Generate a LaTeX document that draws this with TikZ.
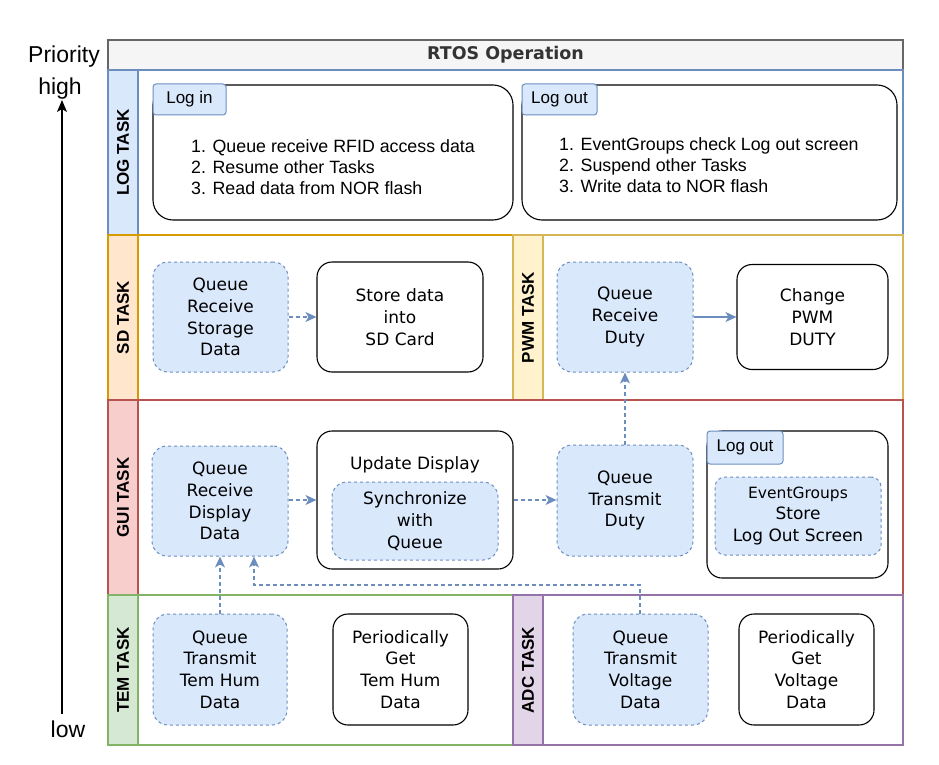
\documentclass[tikz,border=0pt]{standalone}
\usepackage{fontspec}
\setmainfont{Liberation Sans}
\newfontfamily\dvfont{DejaVu Sans}
\usetikzlibrary{arrows.meta}

\definecolor{bluefill}{HTML}{DAE8FC}
\definecolor{bluestroke}{HTML}{6C8EBF}
\definecolor{orangefill}{HTML}{FFE6CC}
\definecolor{orangestroke}{HTML}{D79B00}
\definecolor{yellowfill}{HTML}{FFF2CC}
\definecolor{yellowstroke}{HTML}{D6B656}
\definecolor{redfill}{HTML}{F8CECC}
\definecolor{redstroke}{HTML}{B85450}
\definecolor{greenfill}{HTML}{D5E8D4}
\definecolor{greenstroke}{HTML}{82B366}
\definecolor{purplefill}{HTML}{E1D5E7}
\definecolor{purplestroke}{HTML}{9673A6}
\definecolor{titlefill}{HTML}{F5F5F5}
\definecolor{titlestroke}{HTML}{666666}
\definecolor{titletext}{HTML}{333333}

\tikzset{
  boxtext/.style={align=center, font=\dvfont\fontsize{17}{21.7}\selectfont, inner sep=0pt},
  queuebox/.style={boxtext, draw=bluestroke, fill=bluefill, dash pattern=on 3pt off 3pt,
    line width=1pt, rounded corners=15pt},
  workbox/.style={boxtext, draw=black, line width=1.1pt, rounded corners=15pt},
  logbox/.style={draw=black, line width=1.1pt, rounded corners=20pt, inner sep=0pt},
  tabbox/.style={draw=bluestroke, fill=bluefill, line width=1pt, rounded corners=3pt,
    font=\fontsize{17}{20}\selectfont, inner sep=0pt},
  listtext/.style={align=left, anchor=west, font=\fontsize{17.8}{21}\selectfont, inner sep=0pt},
  lanelabel/.style={rotate=90, font=\bfseries\fontsize{17}{20}\selectfont, inner sep=0pt},
  lane/.style={line width=1.2pt},
  flow/.style={draw=bluestroke, line width=1.2pt, -{Stealth[length=11pt,width=10pt,inset=3pt]}},
  dflow/.style={flow, dash pattern=on 4pt off 3pt},
  prio/.style={font=\fontsize{23}{26}\selectfont, inner sep=0pt}
}

\begin{document}
\begin{tikzpicture}[x=1pt,y=-1pt]
\useasboundingbox (0,0) rectangle (939,765);
\fill[white] (0,0) rectangle (939,765);

% priority axis
\node[prio, anchor=base] (prioword) at (64,63) {Priority};
\node[prio, anchor=base] (high) at (60,95) {high};
\node[prio, anchor=base] (low) at (68,737) {low};
\coordinate (plow) at (62,714);
\coordinate (phigh) at (62,100);
\draw[line width=1.3pt, -{Stealth[length=12pt,width=10pt,inset=3pt]}] (plow) -- (phigh);

% title bar
\node[draw=titlestroke, fill=titlefill, line width=1.2pt, minimum width=795pt, minimum height=30pt,
  inner sep=0pt, font=\dvfont\bfseries\fontsize{17.5}{20}\selectfont, text=titletext]
  (title) at (505.5,55) {RTOS Operation};

% lanes
\draw[lane, bluestroke] (108,70) rectangle (903,235);
\draw[lane, bluestroke, fill=bluefill] (108,70) rectangle (138,235);
\node[lanelabel] (loglbl) at (123,152.5) {LOG TASK};

\draw[lane, orangestroke] (108,235) rectangle (513,400);
\draw[lane, orangestroke, fill=orangefill] (108,235) rectangle (138,400);
\node[lanelabel] (sdlbl) at (123,317.5) {SD TASK};

\draw[lane, yellowstroke] (513,235) rectangle (903,400);
\draw[lane, yellowstroke, fill=yellowfill] (513,235) rectangle (543,400);
\node[lanelabel] (pwmlbl) at (528,317.5) {PWM TASK};

\draw[lane, redstroke] (108,400) rectangle (903,595);
\draw[lane, redstroke, fill=redfill] (108,400) rectangle (138,595);
\node[lanelabel] (guilbl) at (123,497.5) {GUI TASK};

\draw[lane, greenstroke] (108,595) rectangle (513,745);
\draw[lane, greenstroke, fill=greenfill] (108,595) rectangle (138,745);
\node[lanelabel] (temlbl) at (123,670) {TEM TASK};

\draw[lane, purplestroke] (513,595) rectangle (903,745);
\draw[lane, purplestroke, fill=purplefill] (513,595) rectangle (543,745);
\node[lanelabel] (adclbl) at (528,670) {ADC TASK};

% LOG TASK
\node[logbox, minimum width=360pt, minimum height=135pt] (login) at (333,152.5) {};
\node[tabbox, minimum width=73pt, minimum height=31pt] (logintab) at (189.5,99.5) {Log in};
\node[listtext] (loginlist) at (191,167) {1. Queue receive RFID access data\\2. Resume other Tasks\\3. Read data from NOR flash};

\node[logbox, minimum width=375pt, minimum height=135pt] (logout) at (709.5,152.5) {};
\node[tabbox, minimum width=75pt, minimum height=31pt] (logouttab) at (559.5,99.5) {Log out};
\node[listtext] (logoutlist) at (559,165) {1. EventGroups check Log out screen\\2. Suspend other Tasks\\3. Write data to NOR flash};

% SD TASK
\node[queuebox, minimum width=135pt, minimum height=110pt] (sdq) at (220.5,317) {Queue\\Receive\\Storage\\Data};
\node[workbox, minimum width=166pt, minimum height=110pt] (sdstore) at (400,317) {Store data\\into\\SD Card};

% PWM TASK
\node[queuebox, minimum width=136pt, minimum height=110pt] (pwmq) at (625,317) {Queue\\Receive\\Duty};
\node[workbox, minimum width=151pt, minimum height=105pt] (pwmchange) at (812.5,317) {Change\\PWM\\DUTY};

% GUI TASK
\node[queuebox, minimum width=136pt, minimum height=110pt] (guiq) at (220,501) {Queue\\Receive\\Display\\Data};
\node[workbox, minimum width=196pt, minimum height=138pt] (upd) at (415,500) {};
\node[boxtext] (updtitle) at (415,465) {Update Display};
\node[queuebox, minimum width=166pt, minimum height=78pt] (sync) at (415,521) {Synchronize\\with\\Queue};
\node[queuebox, minimum width=136pt, minimum height=111pt] (qtd) at (625,500.5) {Queue\\Transmit\\Duty};

\node[workbox, minimum width=181pt, minimum height=147pt] (guilogout) at (797.5,504.5) {};
\node[tabbox, minimum width=76pt, minimum height=33pt] (guilogouttab) at (745,447.5) {Log out};
\node[queuebox, rounded corners=10pt, minimum width=166pt, minimum height=78pt] (evstore) at (798,516)
  {{\fontsize{15.5}{21.5}\selectfont EventGroups}\\Store\\Log Out Screen};

% TEM TASK
\node[queuebox, minimum width=134pt, minimum height=111pt] (temq) at (220,669.5) {Queue\\Transmit\\Tem Hum\\Data};
\node[workbox, minimum width=135pt, minimum height=111pt] (temget) at (400.5,669.5) {Periodically\\Get\\Tem Hum\\Data};

% ADC TASK
\node[queuebox, minimum width=135pt, minimum height=111pt] (adcq) at (640.5,669.5) {Queue\\Transmit\\Voltage\\Data};
\node[workbox, minimum width=135pt, minimum height=111pt] (adcget) at (806.5,669.5) {Periodically\\Get\\Voltage\\Data};

% connectors
\draw[dflow] (sdq.east) -- (sdstore.west);
\draw[flow] (pwmq.east) -- (pwmchange.west);
\draw[dflow] (guiq.east |- upd.west) -- (upd.west);
\draw[dflow] (upd.east) -- (qtd.west |- upd.east);
\draw[dflow] (qtd.north) -- (pwmq.south);
\draw[dflow] (temq.north) -- (temq.north |- guiq.south);
\coordinate (adcturn) at (640,585);
\coordinate (guientry) at (254,585);
\draw[dflow] (adcq.north -| adcturn) -- (adcturn) -- (guientry) -- (guientry |- guiq.south);
\end{tikzpicture}
\end{document}
